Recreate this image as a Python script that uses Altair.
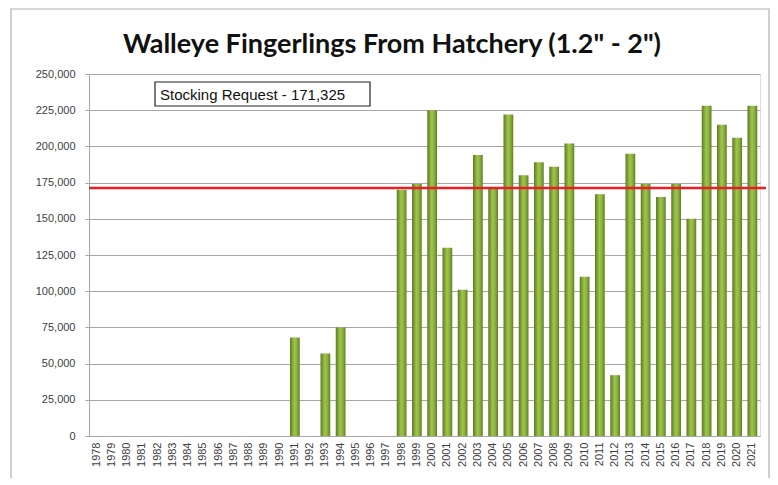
import altair as alt
import pandas as pd

years = [str(y) for y in range(1978, 2022)]
fingerlings = [
    0, 0, 0, 0, 0, 0, 0, 0, 0, 0, 0, 0, 0,      # 1978-1990
    68000, 0, 57000, 75000, 0, 0, 0,             # 1991-1997
    170000, 174000, 225000, 130000, 101000,      # 1998-2002
    194000, 171000, 222000, 180000, 189000,      # 2003-2007
    186000, 202000, 110000, 167000, 42000,       # 2008-2012
    195000, 174000, 165000, 174000, 150000,      # 2013-2017
    228000, 215000, 206000, 228000,              # 2018-2021
]
y_ticks = [0, 25000, 50000, 75000, 100000, 125000, 150000, 175000, 200000, 225000, 250000]
request_value = 171325
request_label = "Stocking Request - 171,325"
title_text = 'Walleye Fingerlings From Hatchery (1.2" - 2")'

df = pd.DataFrame({"year": years, "fish": fingerlings})
one = pd.DataFrame({"a": [0]})

W, H = 671, 362
grid_col = "#a6a6a6"

bar_grad = alt.Gradient(
    gradient="linear",
    x1=0, x2=1, y1=0, y2=0,
    stops=[
        alt.GradientStop(color="#5d7a1f", offset=0),
        alt.GradientStop(color="#9ec64e", offset=0.45),
        alt.GradientStop(color="#8cb23f", offset=0.7),
        alt.GradientStop(color="#607f22", offset=1),
    ],
)

x_enc = alt.X(
    "year:O",
    scale=alt.Scale(domain=years, paddingInner=0.36, paddingOuter=0.18),
    axis=alt.Axis(
        title=None, labelAngle=270, ticks=False, labelPadding=6,
        labelFont="Liberation Sans", labelFontSize=11, labelColor="#404040",
        domainColor=grid_col, grid=False, labelOverlap=False,
    ),
)
y_scale = alt.Scale(domain=[0, 250000], nice=False)
y_axis = alt.Axis(
    title=None, values=y_ticks, format=",d",
    labelFont="Liberation Sans", labelFontSize=11, labelColor="#404040",
    labelPadding=10, tickSize=4, tickColor=grid_col, domainColor=grid_col,
    gridColor=grid_col, gridWidth=1, labelOverlap=False,
)

bars = alt.Chart(df).transform_filter("datum.fish > 0").mark_bar(
    color=bar_grad
).encode(
    x=x_enc,
    y=alt.Y("fish:Q", scale=y_scale, axis=y_axis),
)

rule = alt.Chart(pd.DataFrame({"fish": [request_value]})).mark_rule(
    color="#ee1c25", strokeWidth=2.5
).encode(
    y=alt.Y("fish:Q", scale=y_scale, axis=y_axis),
    x=alt.value(0), x2=alt.value(W + 6),
)

frame = alt.Chart(one).mark_rect(
    fill=None, stroke="#b0b0b0", strokeWidth=1.2
).encode(
    x=alt.value(-78), x2=alt.value(680), y=alt.value(-65), y2=alt.value(430)
)

title = alt.Chart(pd.DataFrame({"t": [title_text]})).mark_text(
    align="center", baseline="middle", font="Lato", fontSize=27,
    fontWeight="bold", color="#111111",
).encode(
    x=alt.value(303), y=alt.value(-29), text="t:N"
)

box = alt.Chart(one).mark_rect(
    fill="white", stroke="#222222", strokeWidth=1.2
).encode(
    x=alt.value(66), x2=alt.value(281), y=alt.value(8), y2=alt.value(32)
)
box_text = alt.Chart(pd.DataFrame({"t": [request_label]})).mark_text(
    align="left", baseline="middle", font="Liberation Sans", fontSize=15,
    color="#111111",
).encode(
    x=alt.value(71), y=alt.value(20.5), text="t:N"
)

chart = alt.layer(frame, bars, rule, box, box_text, title).properties(
    width=W, height=H,
    padding={"left": 81, "top": 66, "right": 10, "bottom": 42},
    autosize=alt.AutoSizeParams(type="none"),
).configure_view(stroke=None).configure(background="white")

chart.save("out.html", embed_options={"renderer": "svg", "actions": False})
